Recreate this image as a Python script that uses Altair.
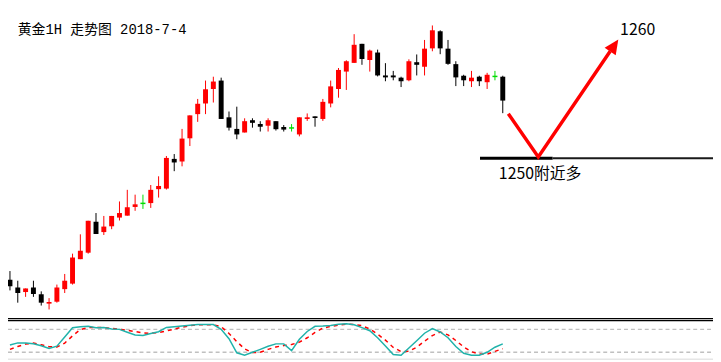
import altair as alt
import pandas as pd

# ---------------- data ----------------
opens = [1237.30, 1236.50, 1236.03, 1236.50, 1235.80, 1234.83, 1235.03, 1236.33, 1236.90, 1239.43,
         1240.10, 1243.30, 1242.23, 1242.83, 1243.73, 1243.93, 1244.83, 1245.20, 1245.23, 1246.67,
         1246.73, 1249.80, 1249.53, 1251.93, 1254.43, 1255.53, 1257.03, 1257.90, 1254.10, 1252.90,
         1252.53, 1253.80, 1253.40, 1253.23, 1253.70, 1253.10, 1253.00, 1252.33, 1253.93, 1254.20,
         1253.93, 1255.53, 1257.03, 1258.83, 1259.73, 1261.70, 1260.03, 1260.80, 1258.43, 1258.43,
         1258.20, 1257.93, 1259.80, 1259.33, 1261.23, 1263.00, 1261.20, 1259.60, 1258.40, 1257.83,
         1258.30, 1257.73, 1258.33, 1258.30]
highs = [1238.2, 1237.2, 1236.4, 1237.2, 1236.1, 1235.4, 1236.8, 1237.9, 1240.0, 1242.0,
         1243.4, 1244.2, 1243.9, 1243.9, 1245.4, 1246.6, 1246.1, 1246.1, 1247.1, 1248.0,
         1250.1, 1250.3, 1252.9, 1254.3, 1256.0, 1257.9, 1258.3, 1258.2, 1254.7, 1255.2,
         1254.0, 1254.0, 1253.7, 1254.0, 1253.7, 1253.3, 1253.4, 1254.1, 1254.5, 1254.2,
         1256.0, 1257.9, 1259.2, 1260.0, 1262.7, 1261.7, 1261.1, 1261.1, 1259.7, 1258.9,
         1258.3, 1260.1, 1260.6, 1262.1, 1263.6, 1263.1, 1262.1, 1259.9, 1258.5, 1258.9,
         1258.4, 1258.7, 1258.9, 1258.4]
lows = [1236.2, 1234.93, 1235.53, 1235.53, 1234.63, 1234.23, 1234.93, 1235.93, 1236.8, 1239.43,
        1240.0, 1242.03, 1241.93, 1242.53, 1243.43, 1243.93, 1244.43, 1244.63, 1244.73, 1245.8,
        1246.63, 1248.53, 1249.03, 1251.13, 1253.63, 1254.43, 1255.63, 1253.93, 1252.73, 1251.83,
        1252.53, 1253.03, 1252.63, 1252.63, 1252.73, 1252.63, 1252.63, 1252.13, 1253.73, 1253.13,
        1253.73, 1255.13, 1256.13, 1256.93, 1259.73, 1259.53, 1258.83, 1258.33, 1257.83, 1257.93,
        1257.23, 1257.83, 1258.43, 1258.43, 1260.93, 1260.63, 1259.53, 1257.33, 1257.33, 1257.23,
        1257.33, 1257.03, 1257.93, 1254.53]
closes = [1236.63, 1235.93, 1236.40, 1235.83, 1234.93, 1235.00, 1236.50, 1237.20, 1239.60, 1240.30,
          1243.40, 1242.03, 1242.80, 1243.90, 1244.20, 1244.80, 1245.10, 1245.20, 1246.60, 1247.00,
          1249.90, 1249.43, 1251.90, 1254.30, 1255.50, 1257.00, 1257.80, 1253.93, 1253.03, 1252.33,
          1253.70, 1253.53, 1253.13, 1253.80, 1252.87, 1252.83, 1253.00, 1254.10, 1254.10, 1254.03,
          1255.70, 1257.30, 1259.00, 1259.90, 1261.60, 1260.13, 1261.00, 1258.43, 1258.23, 1258.23,
          1257.83, 1259.90, 1259.53, 1261.20, 1263.10, 1261.23, 1259.63, 1258.23, 1257.93, 1258.20,
          1257.83, 1258.50, 1258.33, 1255.83]

k_vals = [39.0, 44.6, 44.1, 42.3, 37.0, 30.1, 36.0, 59.8, 84.1, 87.1,
          88.4, 84.1, 85.1, 80.8, 80.0, 72.4, 65.1, 63.8, 69.4, 73.9,
          85.1, 87.1, 88.9, 90.9, 92.7, 92.7, 92.7, 80.0, 55.5, 18.7,
          12.4, 20.0, 27.6, 35.7, 42.0, 42.0, 24.3, 54.2, 74.4, 87.9,
          88.6, 90.1, 93.4, 94.7, 92.2, 84.6, 76.5, 58.0, 36.5, 14.2,
          12.4, 31.4, 50.4, 69.9, 82.0, 73.2, 58.0, 35.2, 17.5, 12.4,
          12.4, 20.0, 33.2, 42.0]
d_vals = [27.6, 35.2, 41.5, 44.1, 39.5, 34.7, 33.9, 44.1, 63.0, 79.5,
          84.6, 85.1, 84.8, 82.5, 80.5, 77.5, 74.2, 70.6, 69.9, 71.7,
          75.7, 80.8, 85.6, 89.6, 91.9, 92.4, 91.9, 87.1, 69.4, 47.9,
          28.9, 19.2, 20.0, 27.6, 33.9, 37.7, 40.3, 46.6, 58.0, 71.9,
          83.3, 87.9, 90.9, 93.4, 92.7, 89.6, 80.8, 67.4, 51.7, 32.7,
          22.0, 22.5, 33.2, 49.1, 63.8, 73.2, 65.6, 50.9, 33.9, 21.3,
          15.4, 14.9, 22.5, 29.4]

title_text = "黄金1H 走势图 2018-7-4"
support_label = "1250附近多"
target_label = "1260"

# path of the forecast arrow (bar index, price)
arrow_x = [63.71, 67.54, 76.73]
arrow_y = [1254.47, 1250.0, 1260.93]
arrow_head = (77.25, 1261.53)
support_level = 1249.87

# ---------------- frames ----------------
n = len(opens)
df = pd.DataFrame({"i": list(range(n)), "open": opens, "high": highs,
                   "low": lows, "close": closes})
df["dir"] = ["up" if c > o else ("down" if c < o else "doji") for o, c in zip(opens, closes)]
ind = pd.DataFrame({"i": list(range(n)), "K": k_vals, "D": d_vals})

X_DOM = [-0.25, 89.875]
P_DOM = [1229.0, 1265.2]
I_DOM = [-0.25, 916.3]

xs = alt.Scale(domain=X_DOM, nice=False, zero=False, padding=0)
ps = alt.Scale(domain=P_DOM, nice=False, zero=False, padding=0)
iscale = alt.Scale(domain=I_DOM, nice=False, zero=False, padding=0)
cscale = alt.Scale(domain=["up", "down", "doji"], range=["#ff0000", "#000000", "#00dd00"])

base = alt.Chart(df)

wicks = base.mark_rule(strokeWidth=1).encode(
    x=alt.X("i:Q", scale=xs, axis=None),
    y=alt.Y("low:Q", scale=ps, axis=None),
    y2="high:Q",
    color=alt.Color("dir:N", scale=cscale, legend=None),
)
bodies = base.transform_filter("datum.dir != 'doji'").mark_bar(size=5).encode(
    x=alt.X("i:Q", scale=xs, axis=None),
    y=alt.Y("open:Q", scale=ps, axis=None),
    y2="close:Q",
    color=alt.Color("dir:N", scale=cscale, legend=None),
)
dojis = base.transform_filter("datum.dir == 'doji'").transform_calculate(
    xa="datum.i - 0.32", xb="datum.i + 0.32"
).mark_rule(strokeWidth=1.5).encode(
    x=alt.X("xa:Q", scale=xs, axis=None),
    x2="xb:Q",
    y=alt.Y("open:Q", scale=ps, axis=None),
    color=alt.Color("dir:N", scale=cscale, legend=None),
)

# annotations
arrow_df = pd.DataFrame({"x": arrow_x, "y": arrow_y, "o": [0, 1, 2]})
arrow_line = alt.Chart(arrow_df).mark_line(color="#ff0000", strokeWidth=3.5, strokeCap="butt").encode(
    x=alt.X("x:Q", scale=xs, axis=None),
    y=alt.Y("y:Q", scale=ps, axis=None),
    order="o:Q",
)
head = alt.Chart(pd.DataFrame({"x": [arrow_head[0]], "y": [arrow_head[1]]})).mark_point(
    shape="M0,-1L-0.92,1L0.92,1Z", filled=True, color="#ff0000", opacity=1,
    size=216, angle=34, strokeWidth=0
).encode(
    x=alt.X("x:Q", scale=xs, axis=None),
    y=alt.Y("y:Q", scale=ps, axis=None),
)

sup_df = pd.DataFrame({"x": [60.09, 69.375], "x2": [69.375, 89.875],
                       "y": [support_level, support_level]})
support1 = alt.Chart(sup_df.iloc[[0]]).mark_rule(color="#000000", strokeWidth=3).encode(
    x=alt.X("x:Q", scale=xs, axis=None), x2="x2:Q",
    y=alt.Y("y:Q", scale=ps, axis=None),
)
support2 = alt.Chart(sup_df.iloc[[1]]).mark_rule(color="#1a1a1a", strokeWidth=2.2).encode(
    x=alt.X("x:Q", scale=xs, axis=None), x2="x2:Q",
    y=alt.Y("y:Q", scale=ps, axis=None),
)

texts_df = pd.DataFrame({
    "x": [1.0, 62.5, 78.0],
    "y": [1262.7, 1247.7, 1262.6],
    "t": [title_text, support_label, target_label],
})
title_mark = alt.Chart(texts_df.iloc[[0]]).mark_text(
    align="left", baseline="alphabetic", fontSize=14,
    font="Liberation Mono, Noto Sans CJK SC", color="#000000"
).encode(x=alt.X("x:Q", scale=xs, axis=None), y=alt.Y("y:Q", scale=ps, axis=None), text="t:N")
label_marks = alt.Chart(texts_df.iloc[[1, 2]]).mark_text(
    align="left", baseline="alphabetic", fontSize=16, font="Noto Sans CJK SC", color="#000000"
).encode(x=alt.X("x:Q", scale=xs, axis=None), y=alt.Y("y:Q", scale=ps, axis=None), text="t:N")

# separators between price and indicator panes
sep_df = pd.DataFrame({"x": [X_DOM[0]] * 2, "x2": [X_DOM[1]] * 2, "y": [1233.27, 1233.07]})
seps = alt.Chart(sep_df).mark_rule(color="#000000", strokeWidth=1.3).encode(
    x=alt.X("x:Q", scale=xs, axis=None), x2="x2:Q",
    y=alt.Y("y:Q", scale=ps, axis=None),
)

# indicator pane
lvl_df = pd.DataFrame({"x": [X_DOM[0]] * 2, "x2": [X_DOM[1]] * 2, "v": [80, 20]})
levels = alt.Chart(lvl_df).mark_rule(color="#c0c0c0", strokeWidth=1.5, strokeDash=[4, 3]).encode(
    x=alt.X("x:Q", scale=xs, axis=None), x2="x2:Q",
    y=alt.Y("v:Q", scale=iscale, axis=None),
)
bottom_df = pd.DataFrame({"x": [X_DOM[0]], "x2": [X_DOM[1]], "v": [1.5]})
bottom = alt.Chart(bottom_df).mark_rule(color="#e6e6e6", strokeWidth=1.5).encode(
    x=alt.X("x:Q", scale=xs, axis=None), x2="x2:Q",
    y=alt.Y("v:Q", scale=iscale, axis=None),
)
k_line = alt.Chart(ind).mark_line(color="#20b2aa", strokeWidth=1.5).encode(
    x=alt.X("i:Q", scale=xs, axis=None),
    y=alt.Y("K:Q", scale=iscale, axis=None),
)
d_line = alt.Chart(ind).mark_line(color="#ff0000", strokeWidth=1.5, strokeDash=[4, 4]).encode(
    x=alt.X("i:Q", scale=xs, axis=None),
    y=alt.Y("D:Q", scale=iscale, axis=None),
)

chart = alt.layer(
    wicks, bodies, dojis, support1, support2, arrow_line, head, title_mark, label_marks, seps,
    levels, bottom, d_line, k_line,
).resolve_scale(y="independent").properties(
    width=713, height=354, padding=0,
    autosize=alt.AutoSizeParams(type="none"),
    background="#ffffff",
).configure_view(strokeWidth=0)

chart.save("out.html", embed_options={"renderer": "svg", "actions": False})
